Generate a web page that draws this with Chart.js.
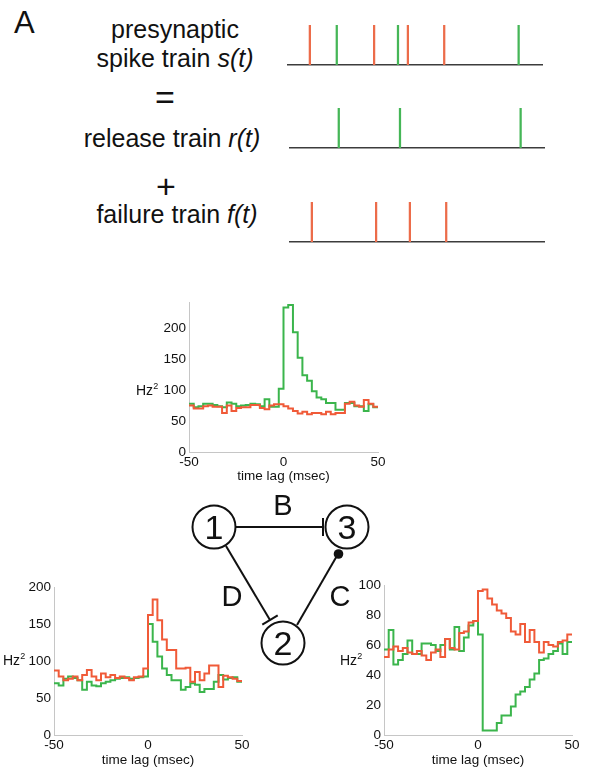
<!DOCTYPE html>
<html>
<head>
<meta charset="utf-8">
<script src="https://cdn.jsdelivr.net/npm/chart.js@4.4.1/dist/chart.umd.min.js"></script>
<style>
  html, body { margin: 0; padding: 0; background: #fff; }
  #page { position: relative; width: 591px; height: 768px; overflow: hidden; font-family: "Liberation Sans", Arial, sans-serif; color: #111; }
  #page canvas { position: absolute; }
  .lbl { position: absolute; white-space: nowrap; line-height: 1; transform: translateX(-50%); }
  .big { font-size: 25px; }
  .hz { position: absolute; font-size: 14px; line-height: 1; }
  .hz sup { font-size: 9px; vertical-align: 6px; line-height: 0; }
  svg { position: absolute; left: 0; top: 0; }
</style>
</head>
<body>
<div id="page">
  <div class="lbl" style="left:14px;top:7px;font-size:31px;transform:none;">A</div>
  <div class="lbl big" style="left:175px;top:17px;">presynaptic</div>
  <div class="lbl big" style="left:175px;top:46px;">spike train <i>s(t)</i></div>
  <div class="lbl" style="left:165px;top:80px;font-size:34px;">=</div>
  <div class="lbl big" style="left:172px;top:126px;">release train <i>r(t)</i></div>
  <div class="lbl" style="left:166px;top:169px;font-size:34px;">+</div>
  <div class="lbl big" style="left:177px;top:202px;">failure train <i>f(t)</i></div>

  <canvas id="trainS" width="272" height="53" style="left:280px;top:15px;"></canvas>
  <canvas id="trainR" width="272" height="53" style="left:282px;top:98px;"></canvas>
  <canvas id="trainF" width="272" height="53" style="left:282px;top:192px;"></canvas>

  <canvas id="histB" width="240" height="194" style="left:150px;top:290px;"></canvas>
  <canvas id="histD" width="245" height="193" style="left:10px;top:575px;"></canvas>
  <canvas id="histC" width="245" height="195" style="left:340px;top:573px;"></canvas>

  <div class="hz" style="left:136px;top:383px;">Hz<sup>2</sup></div>
  <div class="hz" style="left:3px;top:653px;">Hz<sup>2</sup></div>
  <div class="hz" style="left:340px;top:653px;">Hz<sup>2</sup></div>

  <svg width="591" height="768" font-family="Liberation Sans, Arial, sans-serif">
    <g stroke="#111" stroke-width="2" fill="none">
      <line x1="236" y1="527" x2="323" y2="527"/>
      <line x1="323" y1="518" x2="323" y2="536"/>
      <line x1="226" y1="546" x2="270" y2="620"/>
      <line x1="262.3" y1="624.7" x2="277.7" y2="615.3"/>
      <line x1="297" y1="625" x2="338" y2="554"/>
      <circle cx="214" cy="527" r="21.5" fill="#fff"/>
      <circle cx="347" cy="527" r="21.5" fill="#fff"/>
      <circle cx="283" cy="643" r="21.5" fill="#fff"/>
    </g>
    <circle cx="338.5" cy="554" r="4.8" fill="#111"/>
    <g fill="#111" text-anchor="middle" font-size="34">
      <text x="214" y="539">1</text>
      <text x="347" y="539">3</text>
      <text x="283" y="655">2</text>
    </g>
    <g fill="#111" text-anchor="middle" font-size="29">
      <text x="283" y="515">B</text>
      <text x="232" y="606">D</text>
      <text x="340" y="606">C</text>
    </g>
  </svg>
</div>
<script>
document.addEventListener('DOMContentLoaded', function() {
  // spike times on the train axis (0..100)
  const failureTimes = [8.6, 33.9, 47.2, 61.5];
  const releaseTimes = [19.2, 43.3, 90.8];

  // histogram bin edges (msec)
  const lagEdges = [-50, -47.5, -45, -42.5, -40, -37.5, -35, -32.5, -30, -27.5,
    -25, -22.5, -20, -17.5, -15, -12.5, -10, -7.5, -5, -2.5,
    0, 2.5, 5, 7.5, 10, 12.5, 15, 17.5, 20, 22.5,
    25, 27.5, 30, 32.5, 35, 37.5, 40, 42.5, 45, 47.5, 50];

  // B: 1 -> 3
  const bRelease = [78, 72, 74, 78, 78, 76, 74, 72, 80, 78, 74, 75, 76, 78, 77, 74, 85, 73, 73, 102,
    233, 237, 193, 152, 124, 115, 98, 88, 85, 79, 79, 68, 68, 79, 79, 74, 74, 66, 77, 72];
  const bFailure = [75, 70, 70, 74, 75, 73, 73, 63, 75, 66, 71, 72, 72, 76, 76, 71, 69, 75, 77, 77,
    74, 70, 66, 62, 65, 61, 63, 63, 61, 65, 61, 63, 63, 78, 81, 75, 73, 84, 78, 73];

  // D: 1 -> 2
  const dRelease = [70, 67, 76, 79, 77, 74, 61, 72, 67, 66, 70, 72, 74, 76, 77, 78, 76, 77, 78, 79,
    150, 126, 106, 90, 81, 74, 74, 61, 65, 70, 68, 58, 62, 62, 72, 81, 75, 77, 78, 72];
  const dFailure = [87, 79, 74, 76, 79, 74, 81, 88, 79, 74, 83, 78, 81, 77, 79, 77, 74, 78, 79, 90,
    162, 183, 155, 129, 115, 115, 90, 90, 91, 72, 85, 74, 83, 94, 94, 65, 80, 78, 76, 73];

  // C: 2 -> 3
  const cRelease = [57, 70, 47, 50, 54, 63, 54, 54, 61, 61, 60, 56, 60, 64, 57, 72, 56, 65, 73, 76,
    67, 3, 3, 3, 8, 13, 13, 19, 27, 29, 32, 37, 41, 50, 51, 54, 56, 61, 54, 62];
  const cFailure = [52, 57, 59, 56, 58, 55, 54, 56, 53, 50, 55, 57, 52, 64, 58, 57, 68, 69, 75, 76,
    96, 97, 91, 87, 83, 81, 78, 69, 67, 74, 62, 70, 62, 55, 62, 60, 59, 62, 63, 67];

  const RED = '#f05a38';
  const GREEN = '#3bb54c';
  const SPIKE_RED = '#ec6c4a';
  const SPIKE_GREEN = '#45b657';

  Chart.defaults.font.family = '"Liberation Sans", Arial, sans-serif';
  Chart.defaults.color = '#111';

  function makeTrain(id, red, green) {
    const datasets = [];
    if (red.length) {
      datasets.push({ data: red.map(t => ({ x: t, y: 1 })), backgroundColor: SPIKE_RED, barThickness: 1.6, grouped: false });
    }
    if (green.length) {
      datasets.push({ data: green.map(t => ({ x: t, y: 1 })), backgroundColor: SPIKE_GREEN, barThickness: 1.6, grouped: false });
    }
    new Chart(document.getElementById(id), {
      type: 'bar',
      data: { datasets: datasets },
      options: {
        responsive: false,
        animation: false,
        layout: { padding: { left: 8, right: 10, top: 10, bottom: 3 } },
        plugins: { legend: { display: false }, tooltip: { enabled: false } },
        scales: {
          x: {
            type: 'linear', min: 0, max: 100, offset: false,
            ticks: { display: false },
            grid: { display: false, drawTicks: false },
            border: { display: true, color: '#3c3c3c', width: 1.5 },
            afterFit: s => { s.height = 0; }
          },
          y: { min: 0, max: 1, display: false }
        }
      }
    });
  }

  function makeHist(id, failure, release, yMax, yStep, yWidth, xHeight, rightPad) {
    const toSteps = vals => lagEdges.map((x, i) => ({ x: x, y: vals[Math.min(i, vals.length - 1)] }));
    const tickFont = { size: 13.5 };
    new Chart(document.getElementById(id), {
      type: 'line',
      data: {
        datasets: [
          { data: toSteps(failure), borderColor: RED, borderWidth: 2, stepped: true, pointRadius: 0, fill: false },
          { data: toSteps(release), borderColor: GREEN, borderWidth: 2, stepped: true, pointRadius: 0, fill: false }
        ]
      },
      options: {
        responsive: false,
        animation: false,
        layout: { padding: { top: 12, right: rightPad, left: 0, bottom: 0 } },
        plugins: { legend: { display: false }, tooltip: { enabled: false } },
        scales: {
          x: {
            type: 'linear', min: -50, max: 50,
            ticks: { stepSize: 50, padding: 2, font: tickFont, maxRotation: 0, color: '#111' },
            grid: { display: false, drawTicks: false },
            border: { color: '#c6c6c6', width: 1 },
            title: { display: true, text: 'time lag (msec)', padding: { top: 0, bottom: 0 }, font: tickFont, color: '#111' },
            afterFit: s => { s.height = xHeight; }
          },
          y: {
            min: 0, max: yMax,
            ticks: { stepSize: yStep, includeBounds: false, padding: 3, font: tickFont, color: '#111' },
            grid: { display: false, drawTicks: false },
            border: { color: '#c6c6c6', width: 1 },
            afterFit: s => { s.width = yWidth; }
          }
        }
      }
    });
  }

  makeTrain('trainS', failureTimes, releaseTimes);
  makeTrain('trainR', [], releaseTimes);
  makeTrain('trainF', failureTimes, []);

  makeHist('histB', bFailure, bRelease, 242, 50, 39, 32, 12);
  makeHist('histD', dFailure, dRelease, 200, 50, 44, 33, 13);
  makeHist('histC', cFailure, cRelease, 100, 20, 44, 33, 13);
});
</script>
</body>
</html>
